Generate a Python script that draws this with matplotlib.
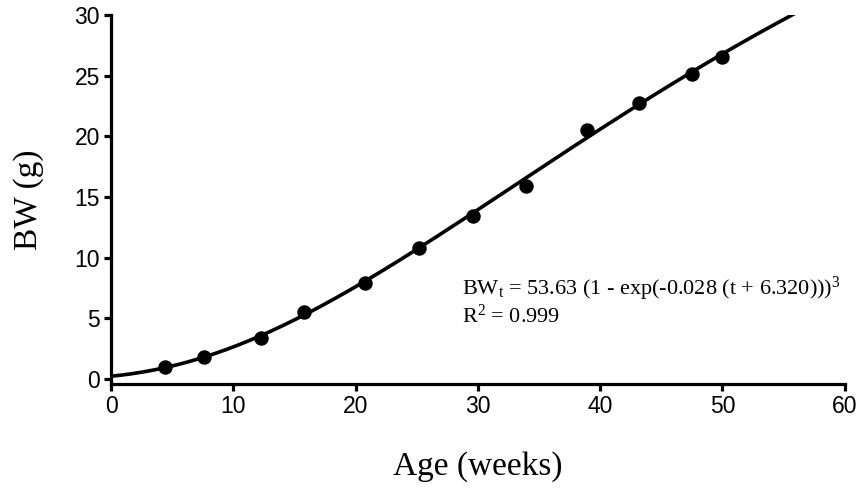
import numpy as np
import matplotlib
matplotlib.use("Agg")
import matplotlib.pyplot as plt

plt.rcParams['mathtext.fontset'] = 'custom'
plt.rcParams['mathtext.rm'] = 'Liberation Serif'
plt.rcParams['mathtext.it'] = 'Liberation Serif:italic'

age_weeks = [4.4, 7.6, 12.3, 15.8, 20.8, 25.2, 29.6, 33.9, 38.9, 43.2, 47.5, 50.0]
bw_g = [1.0, 1.8, 3.4, 5.5, 7.9, 10.8, 13.4, 15.9, 20.5, 22.7, 25.1, 26.5]

# Fitted model parameters shown on chart
A_param = 53.63
k_param = 0.028
t0_param = 6.320

x_ticks = [0, 10, 20, 30, 40, 50, 60]
y_ticks = [0, 5, 10, 15, 20, 25, 30]

fig = plt.figure(figsize=(8.61, 4.95), dpi=100)
ax = fig.add_axes([0.129, 0.2245, 0.852, 0.7455])

t = np.linspace(0, 60, 400)
fit = A_param * (1 - np.exp(-k_param * (t + t0_param))) ** 3
ax.plot(t, fit, color='black', lw=2.6, solid_capstyle='butt')
ax.plot(age_weeks, bw_g, 'o', color='black', ms=9.4)

ax.set_xlim(0, 60)
ax.set_ylim(-0.4, 30)
ax.set_xticks(x_ticks)
ax.set_yticks(y_ticks)
for s in ['top', 'right']:
    ax.spines[s].set_visible(False)
for s in ['left', 'bottom']:
    ax.spines[s].set_linewidth(2.3)
ax.tick_params(direction='out', length=5, width=2.3, labelsize=16.5, pad=3)
for lab in ax.get_xticklabels() + ax.get_yticklabels():
    lab.set_fontfamily('Liberation Sans')

ax.set_xlabel('Age (weeks)', fontsize=24, family='Liberation Serif', labelpad=24)
ax.set_ylabel('BW (g)', fontsize=24, family='Liberation Serif', labelpad=22)

ax.text(28.7, 6.9, r'BW$_\mathrm{t}$ = 53.63 (1 - exp(-0.028 (t + 6.320)))$^3$',
        fontsize=16, family='Liberation Serif', va='baseline', ha='left')
ax.text(28.7, 4.6, r'R$^2$ = 0.999',
        fontsize=16, family='Liberation Serif', va='baseline', ha='left')

fig.savefig('out.png', dpi=100)
